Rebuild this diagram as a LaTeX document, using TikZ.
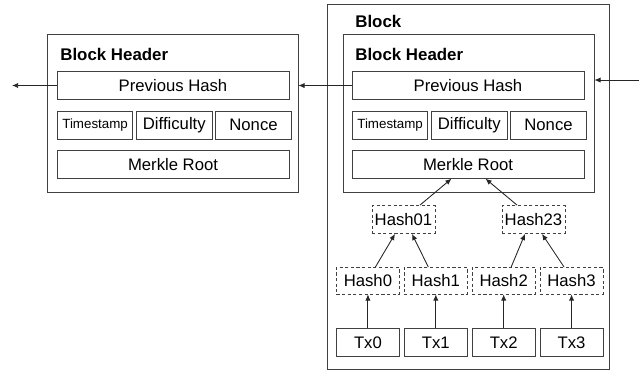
\documentclass[tikz,border=0pt]{standalone}
\usepackage{fontspec}
\setmainfont{Liberation Sans}
\usetikzlibrary{arrows.meta, positioning}

\begin{document}
\begin{tikzpicture}[
  x=0.02cm, y=-0.02cm,
  frame/.style={draw=black!75, line width=0.5pt, inner sep=0pt},
  field/.style={draw=black!75, line width=0.5pt, minimum height=0.55cm, inner sep=1pt, font=\fontsize{9.5}{11}\selectfont},
  small/.style={font=\fontsize{7.6}{9}\selectfont},
  hashbox/.style={field, dash pattern=on 1.8pt off 1.4pt, minimum width=1.26cm, minimum height=0.53cm},
  txbox/.style={field, minimum width=1.26cm},
  title/.style={font=\bfseries\fontsize{9.6}{11}\selectfont, anchor=west, inner sep=0pt},
  link/.style={-{Latex[length=3.5pt,width=3pt]}, line width=0.5pt, black!85},
]
\useasboundingbox (0,0) rectangle (639,370);

% previous block header
\node[frame, minimum width=5.02cm, minimum height=3.16cm] (hdrA) at (172.5,113) {};
\node[title] (titleA) at (60,54) {Block Header};
\node[field, minimum width=4.64cm] (prevA) at (173,85.5) {Previous Hash};
\node[field, small, minimum width=1.507cm, anchor=north west] (timeA) at (57,111) {Timestamp};
\node[field, minimum width=1.507cm, right=0.06cm of timeA] (diffA) {Difficulty};
\node[field, minimum width=1.507cm, right=0.06cm of diffA] (nonceA) {Nonce};
\node[field, minimum width=4.64cm] (rootA) at (173,164.5) {Merkle Root};

% current block
\node[frame, minimum width=5.64cm, minimum height=7.3cm] (block) at (468,186.5) {};
\node[title] (blocktitle) at (355,21) {Block};
\node[frame, minimum width=5.02cm, minimum height=3.16cm] (hdrB) at (468.5,113) {};
\node[title] (titleB) at (355,54) {Block Header};
\node[field, minimum width=4.64cm] (prevB) at (468,85.5) {Previous Hash};
\node[field, small, minimum width=1.507cm, anchor=north west] (timeB) at (352,111) {Timestamp};
\node[field, minimum width=1.507cm, right=0.06cm of timeB] (diffB) {Difficulty};
\node[field, minimum width=1.507cm, right=0.06cm of diffB] (nonceB) {Nonce};
\node[field, minimum width=4.64cm] (rootB) at (468,164.5) {Merkle Root};

% merkle tree
\node[hashbox, minimum height=0.56cm] (h01) at (403.5,219.5) {Hash01};
\node[hashbox, minimum height=0.56cm] (h23) at (533.5,219.5) {Hash23};
\node[hashbox, anchor=north west] (h0) at (336,267) {Hash0};
\node[hashbox, right=0.08cm of h0] (h1) {Hash1};
\node[hashbox, right=0.08cm of h1] (h2) {Hash2};
\node[hashbox, right=0.08cm of h2] (h3) {Hash3};
\foreach \i in {0,...,3} {
  \node[txbox, below=0.68cm of h\i] (tx\i) {Tx\i};
  \draw[link] (tx\i) -- (h\i);
}
\draw[link] ([xshift=0.15cm]h0.north) -- ([xshift=-0.17cm]h01.south);
\draw[link] ([xshift=-0.15cm]h1.north) -- ([xshift=0.17cm]h01.south);
\draw[link] ([xshift=0.15cm]h2.north) -- ([xshift=-0.17cm]h23.south);
\draw[link] ([xshift=-0.15cm]h3.north) -- ([xshift=0.17cm]h23.south);
\draw[link] ([xshift=0.33cm]h01.north) -- ([xshift=-0.33cm]rootB.south);
\draw[link] ([xshift=-0.33cm]h23.north) -- ([xshift=0.35cm]rootB.south);

% chain links
\coordinate (outA) at (12,85.5);
\coordinate (inB) at (639,80);
\draw[link] (prevA.west) -- (outA);
\draw[link] (prevB.west) -- (prevB.west -| hdrA.east);
\draw[link] (inB) -- (inB -| hdrB.east);
\end{tikzpicture}
\end{document}
